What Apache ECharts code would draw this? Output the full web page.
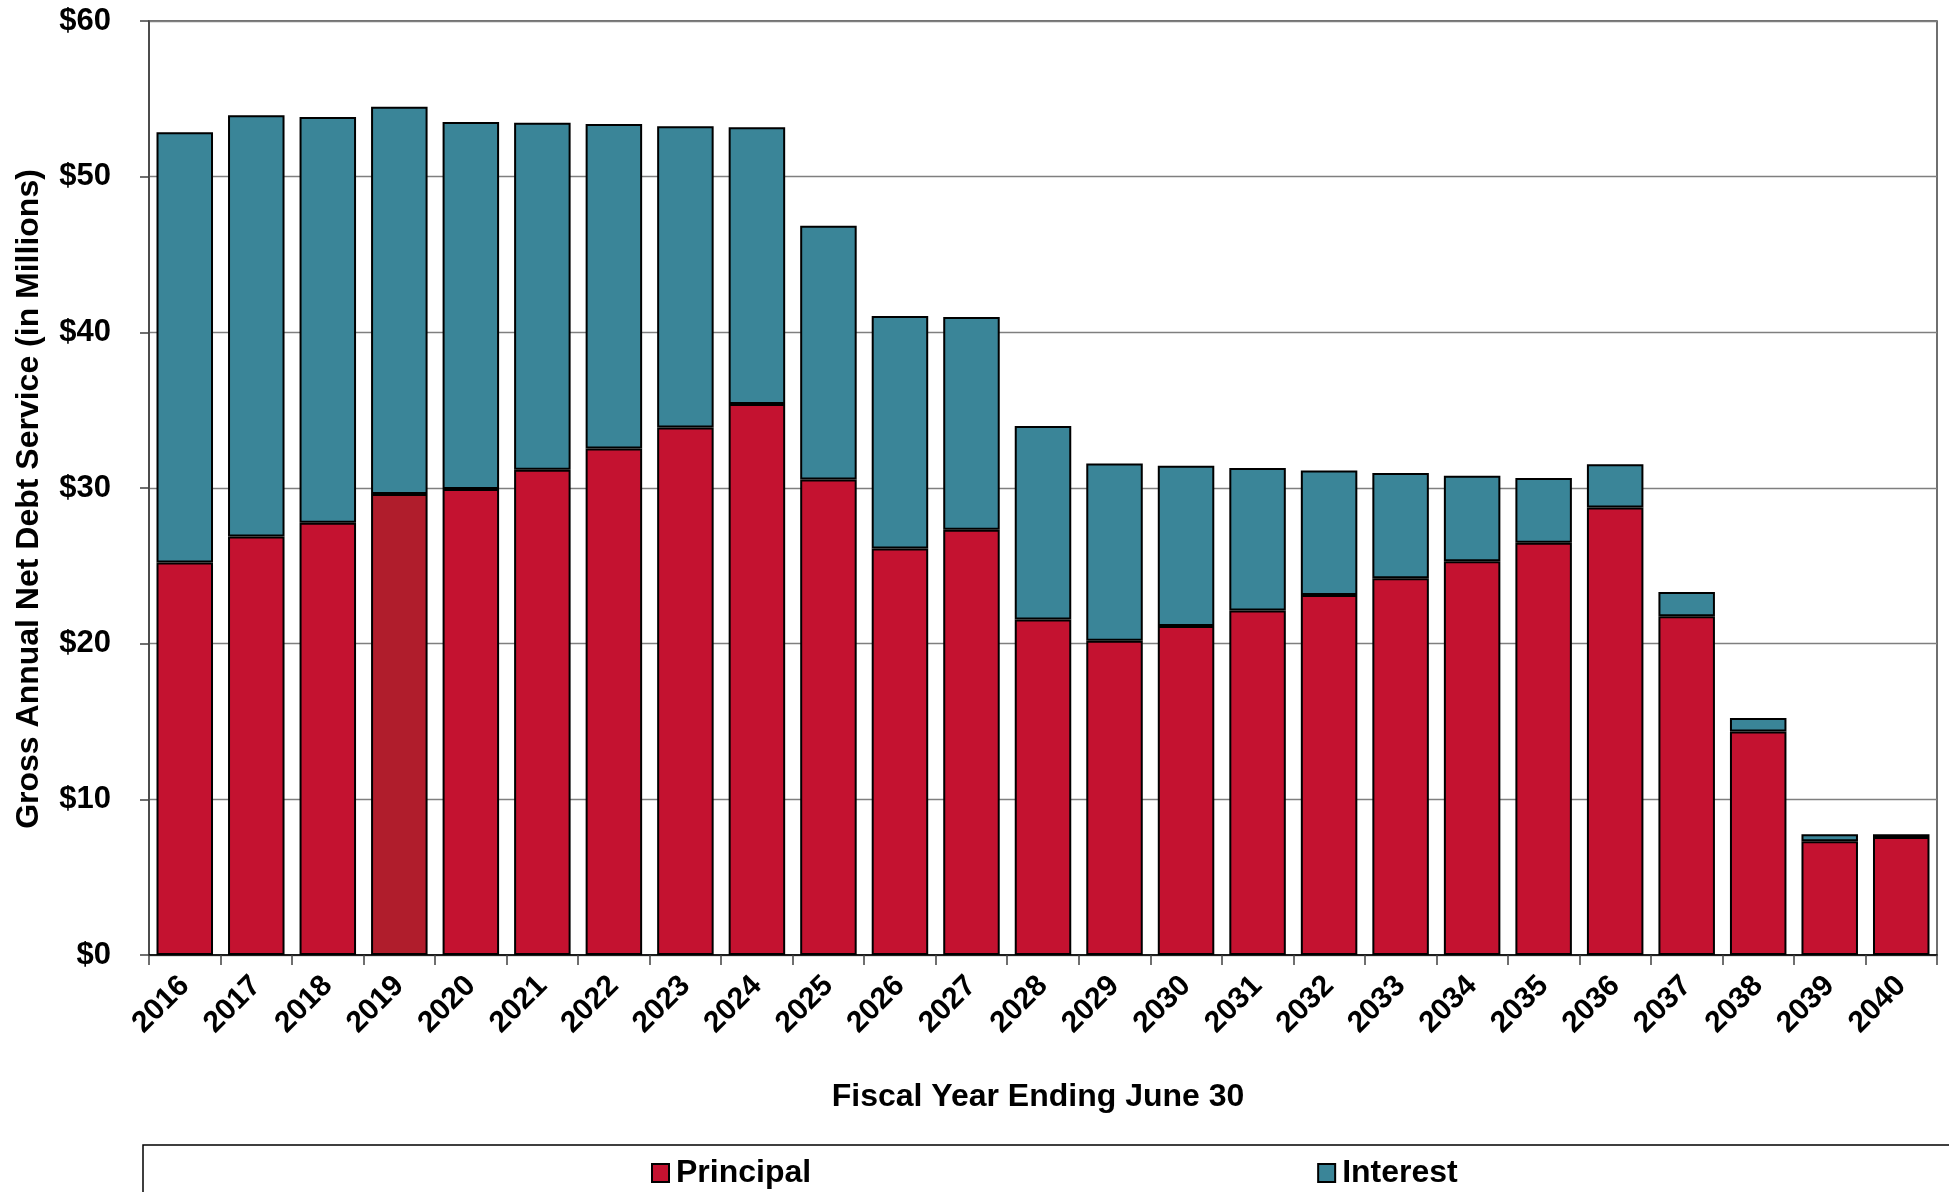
<!DOCTYPE html>
<html>
<head>
<meta charset="utf-8">
<title>Gross Annual Net Debt Service</title>
<script src="https://cdn.jsdelivr.net/npm/echarts@6/dist/echarts.min.js"></script>
<style>
  html, body { margin: 0; padding: 0; background: #fff; }
  #chart { width: 1949px; height: 1192px; }
</style>
</head>
<body>
<div id="chart"></div>
<script>
// fiscal years on the x axis
const years = ['2016', '2017', '2018', '2019', '2020', '2021', '2022', '2023', '2024', '2025',
  '2026', '2027', '2028', '2029', '2030', '2031', '2032', '2033', '2034', '2035',
  '2036', '2037', '2038', '2039', '2040'];

// $ millions
const principal = [25.21, 26.88, 27.76, 29.61, 29.93, 31.18, 32.54, 33.89, 35.39, 30.55,
  26.12, 27.32, 21.56, 20.18, 21.13, 22.13, 23.12, 24.20, 25.30, 26.49,
  28.75, 21.76, 14.35, 7.30, 7.58];
const interest = [27.64, 27.07, 26.07, 24.88, 23.58, 22.28, 20.85, 19.35, 17.78, 16.30,
  14.93, 13.67, 12.42, 11.40, 10.30, 9.15, 8.01, 6.76, 5.49, 4.15,
  2.78, 1.56, 0.88, 0.45, 0.17];

const yTicks = { min: 0, max: 60, interval: 10 };

const FONT = '"Liberation Sans", Arial, sans-serif';
const RED = '#C41230';
const RED_DARK = '#B01D2C'; // the 2019 bar is a shade darker
const TEAL = '#3A8598';

const chart = echarts.init(document.getElementById('chart'), null, { renderer: 'canvas' });

const option = {
  animation: false,
  backgroundColor: '#fff',
  textStyle: { fontFamily: FONT, fontWeight: 'bold', color: '#000' },
  grid: {
    left: 149, top: 21, right: 12, bottom: 237,
    show: true, borderColor: '#404040', borderWidth: 1.5
  },
  legend: {
    left: 646, top: 1152,
    itemWidth: 17, itemHeight: 18, itemGap: 506,
    icon: 'rect',
    itemStyle: { borderColor: '#000', borderWidth: 2 },
    textStyle: { fontFamily: FONT, fontWeight: 'bold', fontSize: 32, color: '#000', padding: [0, 0, 0, 2] },
    data: ['Principal', 'Interest']
  },
  graphic: [{
    type: 'rect',
    shape: { x: 143, y: 1145, width: 1900, height: 200 },
    style: { fill: 'none', stroke: '#000', lineWidth: 1.5 },
    silent: true
  }],
  xAxis: {
    type: 'category',
    data: years,
    name: 'Fiscal Year Ending June 30',
    nameLocation: 'middle',
    nameGap: 126,
    nameTextStyle: { fontFamily: FONT, fontWeight: 'bold', fontSize: 32, color: '#000', padding: [0, 10, 0, 0] },
    axisLine: { lineStyle: { color: '#000', width: 1.5 } },
    axisTick: { show: true, length: 10, lineStyle: { color: '#404040', width: 1.5 } },
    axisLabel: {
      rotate: 45, margin: 26, interval: 0,
      fontFamily: FONT, fontWeight: 'bold', fontSize: 30, color: '#000'
    }
  },
  yAxis: {
    type: 'value',
    min: yTicks.min, max: yTicks.max, interval: yTicks.interval,
    name: 'Gross Annual Net Debt Service (in Millions)',
    nameLocation: 'middle',
    nameGap: 104,
    nameTextStyle: { fontFamily: FONT, fontWeight: 'bold', fontSize: 32, color: '#000', padding: [0, 22, 0, 0] },
    axisLine: { show: true, lineStyle: { color: '#404040', width: 1.5 } },
    axisTick: { show: true, length: 9, lineStyle: { color: '#404040', width: 1.5 } },
    splitLine: { show: true, lineStyle: { color: '#7f7f7f', width: 1.3 } },
    axisLabel: {
      margin: 38,
      formatter: '${value}',
      fontFamily: FONT, fontWeight: 'bold', fontSize: 31, color: '#000'
    }
  },
  series: [
    {
      name: 'Principal',
      type: 'bar',
      stack: 'debt',
      barCategoryGap: '21%',
      itemStyle: { color: RED, borderColor: '#000', borderWidth: 2 },
      data: principal.map((v, i) =>
        years[i] === '2019' ? { value: v, itemStyle: { color: RED_DARK } } : v)
    },
    {
      name: 'Interest',
      type: 'bar',
      stack: 'debt',
      barCategoryGap: '21%',
      itemStyle: { color: TEAL, borderColor: '#000', borderWidth: 2 },
      data: interest
    }
  ]
};

chart.setOption(option);
</script>
</body>
</html>
